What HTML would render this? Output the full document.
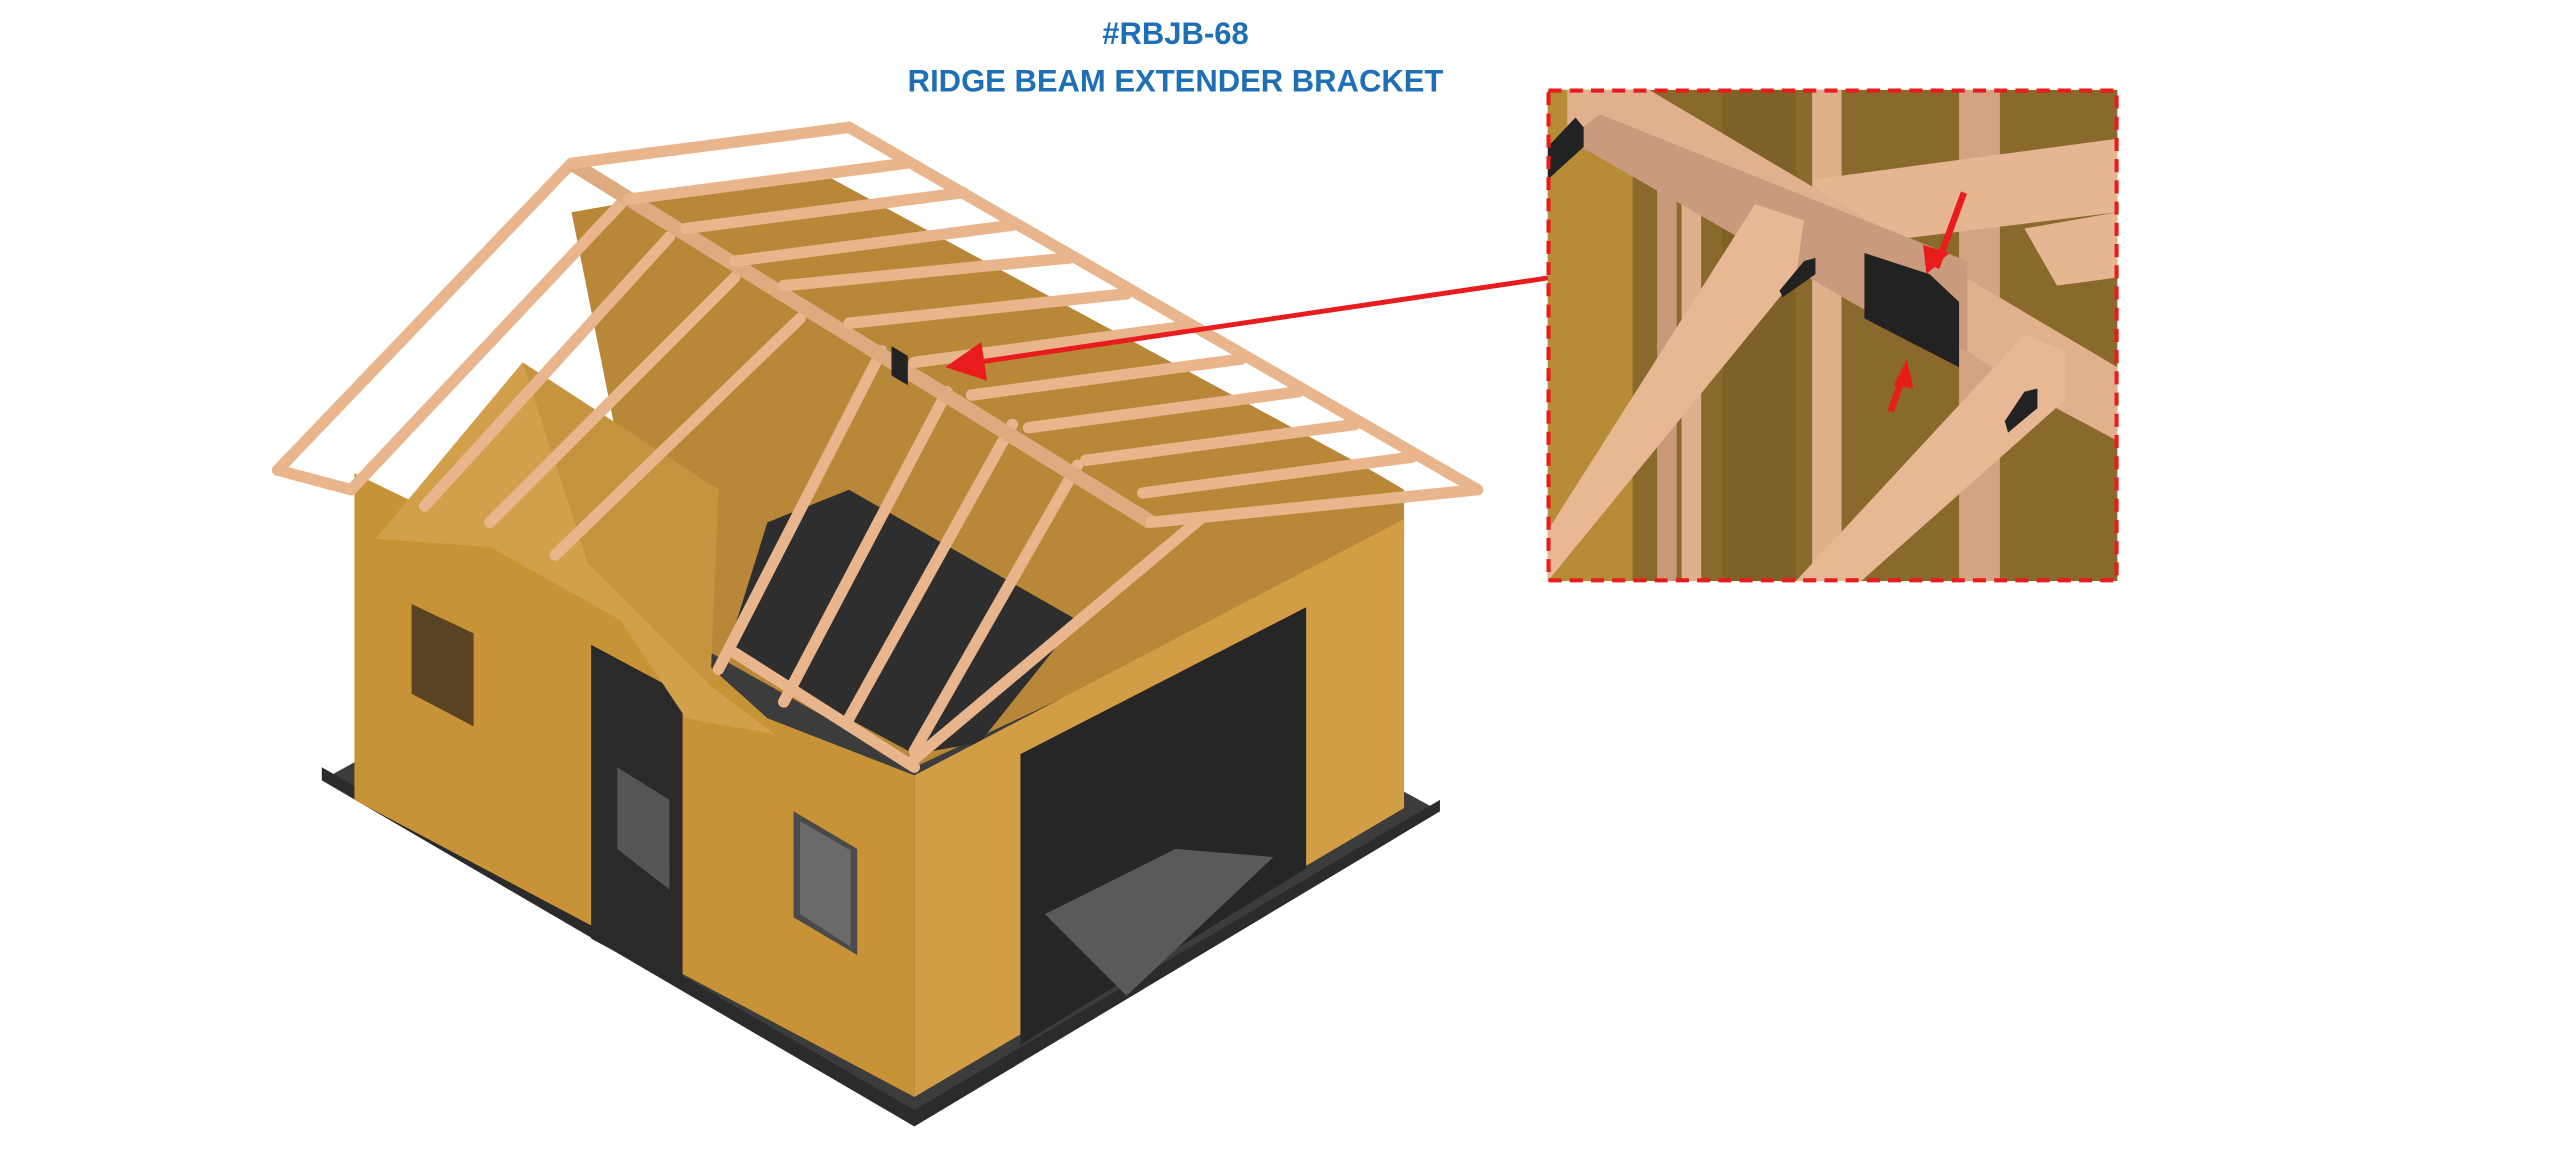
<!DOCTYPE html>
<html><head><meta charset="utf-8">
<style>
html,body{margin:0;padding:0;background:#fff;}
svg{display:block;}
</style></head>
<body>
<svg width="2560" height="1159" viewBox="0 0 1568 710" xmlns="http://www.w3.org/2000/svg">
<defs>
<clipPath id="ic"><rect x="948" y="55" width="349" height="301"/></clipPath>
<marker id="ah" markerWidth="8" markerHeight="8" refX="6" refY="4" orient="auto" markerUnits="strokeWidth"><path d="M0,0 L8,4 L0,8 z" fill="#e81c1c"/></marker>
</defs>
<rect width="1568" height="710" fill="#fff"/>
<text x="720" y="27" text-anchor="middle" font-family="Liberation Sans, sans-serif" font-weight="bold" font-size="19" fill="#1f6fb6">#RBJB-68</text>
<text x="720" y="56" text-anchor="middle" font-family="Liberation Sans, sans-serif" font-weight="bold" font-size="19" fill="#1f6fb6">RIDGE BEAM EXTENDER BRACKET</text>

<!-- slab -->
<polygon points="197,478 560,690 882,497 520,300" fill="#3c3c3c"/>
<polygon points="197,470 560,680 882,490 882,497 560,690 197,478" fill="#2b2b2b"/>
<!-- back walls -->
<polygon points="350,130 520,100 860,300 860,330 560,470 400,380" fill="#b88838"/>
<!-- white gap near right eave -->
<polygon points="525,84 902,300 862,300 492,100" fill="#ffffff"/>
<!-- dark floor seen through left roof plane -->
<polygon points="445,400 470,320 520,300 660,380 600,455 560,462" fill="#2e2e2e"/>
<!-- left wall -->
<polygon points="217,290 300,330 380,370 420,395 470,440 560,475 560,672 217,490" fill="#c89337"/>
<!-- right wall -->
<polygon points="560,475 860,318 860,495 560,672" fill="#d39d45"/>
<!-- garage opening -->
<polygon points="625,462 800,372 800,532 625,640" fill="#262626"/>
<polygon points="640,560 720,520 780,525 690,610" fill="#5a5a5a"/>
<!-- door opening -->
<polygon points="362,395 418,425 418,605 362,575" fill="#2a2a2a"/>
<polygon points="378,470 410,490 410,545 378,520" fill="#555"/>
<!-- windows -->
<polygon points="252,370 290,388 290,445 252,425" fill="#5a4320"/>
<polygon points="486,497 525,520 525,585 486,562" fill="#4a4a4a"/>
<polygon points="490,503 521,521 521,580 490,560" fill="#6a6a6a"/>
<!-- dormer roof sheathing -->
<polygon points="230,330 320,222 440,300 435,420 475,450 420,440 380,380 300,335" fill="#d2a04a"/>
<polygon points="320,222 440,300 435,420 360,345" fill="#c6933e"/>
<!-- roof rafters, left plane -->
<g stroke="#e8b58c" stroke-width="7" stroke-linecap="round" fill="none">
<line x1="170" y1="288" x2="350" y2="100"/>
<line x1="215" y1="300" x2="380" y2="125"/>
<line x1="260" y1="310" x2="410" y2="145"/>
<line x1="300" y1="320" x2="450" y2="170"/>
<line x1="340" y1="340" x2="490" y2="195"/>
<line x1="440" y1="410" x2="540" y2="215"/>
<line x1="480" y1="430" x2="580" y2="240"/>
<line x1="520" y1="440" x2="620" y2="260"/>
<line x1="560" y1="460" x2="660" y2="285"/>
<line x1="450" y1="400" x2="560" y2="470"/>
<line x1="170" y1="288" x2="215" y2="300"/>
<line x1="560" y1="465" x2="735" y2="318"/>
</g>
<!-- ridge beam -->
<line x1="350" y1="100" x2="705" y2="320" stroke="#deaa80" stroke-width="9"/>
<!-- right roof plane rafters -->
<g stroke="#e8b58c" stroke-width="7" stroke-linecap="round">
<line x1="350" y1="100" x2="520" y2="78"/>
<line x1="520" y1="78" x2="905" y2="300"/>
<line x1="705" y1="320" x2="905" y2="300"/>
<line x1="385" y1="122" x2="555" y2="100"/>
<line x1="420" y1="140" x2="590" y2="118"/>
<line x1="450" y1="160" x2="620" y2="138"/>
<line x1="480" y1="175" x2="655" y2="158"/>
<line x1="520" y1="198" x2="690" y2="180"/>
<line x1="560" y1="222" x2="725" y2="200"/>
<line x1="595" y1="242" x2="760" y2="220"/>
<line x1="630" y1="262" x2="795" y2="240"/>
<line x1="665" y1="282" x2="830" y2="260"/>
<line x1="700" y1="302" x2="865" y2="280"/>
</g>
<!-- bracket on ridge -->
<polygon points="546,212 556,218 556,236 546,230" fill="#222"/>
<!-- red arrow to bracket -->
<line x1="950" y1="170" x2="585" y2="224" stroke="#e81c1c" stroke-width="3" marker-end="url(#ah)"/>

<!-- inset -->
<g clip-path="url(#ic)">
<rect x="948" y="55" width="349" height="301" fill="#8a6a2c"/>
<rect x="948" y="55" width="52" height="301" fill="#b88c36"/>
<rect x="1055" y="55" width="45" height="301" fill="#7e6128"/>
<rect x="1110" y="55" width="18" height="301" fill="#e0b08c"/>
<rect x="1200" y="55" width="25" height="301" fill="#d4a482"/>
<rect x="1030" y="100" width="12" height="256" fill="#e0b08c"/>
<rect x="1015" y="100" width="12" height="256" fill="#c9997a"/>
<polygon points="1110,110 1297,85 1297,130 1135,150" fill="#e6b692"/>
<polygon points="1240,140 1297,130 1297,170 1260,175" fill="#e6b692"/>
<polygon points="960,55 1010,55 1297,225 1297,270 1250,245 1205,215 1160,200 960,85" fill="#e2b08c"/>
<polygon points="980,70 960,85 1160,200 1205,215 1205,160" fill="#c99a7c"/>
<polygon points="948,325 1075,125 1105,135 1100,170 948,356" fill="#e8b894"/>
<polygon points="1100,356 1240,205 1265,215 1265,245 1140,356" fill="#e8b894"/>
<polygon points="1142,155 1182,168 1200,185 1200,225 1142,195" fill="#222"/>
<polygon points="1105,160 1112,158 1112,168 1092,182 1090,178" fill="#222"/>
<polygon points="1240,240 1248,238 1248,250 1230,265 1228,258" fill="#222"/>
<polygon points="948,90 965,72 970,78 970,90 948,110" fill="#222"/>
<line x1="1203" y1="118" x2="1186" y2="164" stroke="#e81c1c" stroke-width="4"/>
<polygon points="1180,168 1178,150 1194,155" fill="#e81c1c"/>
<line x1="1158" y1="252" x2="1166" y2="230" stroke="#e81c1c" stroke-width="4"/>
<polygon points="1168,220 1160,236 1172,238" fill="#e81c1c"/>
</g>
<rect x="948.5" y="55.5" width="348" height="300" fill="none" stroke="#e81c1c" stroke-width="2.5" stroke-dasharray="8,5"/>
</svg>
</body></html>
